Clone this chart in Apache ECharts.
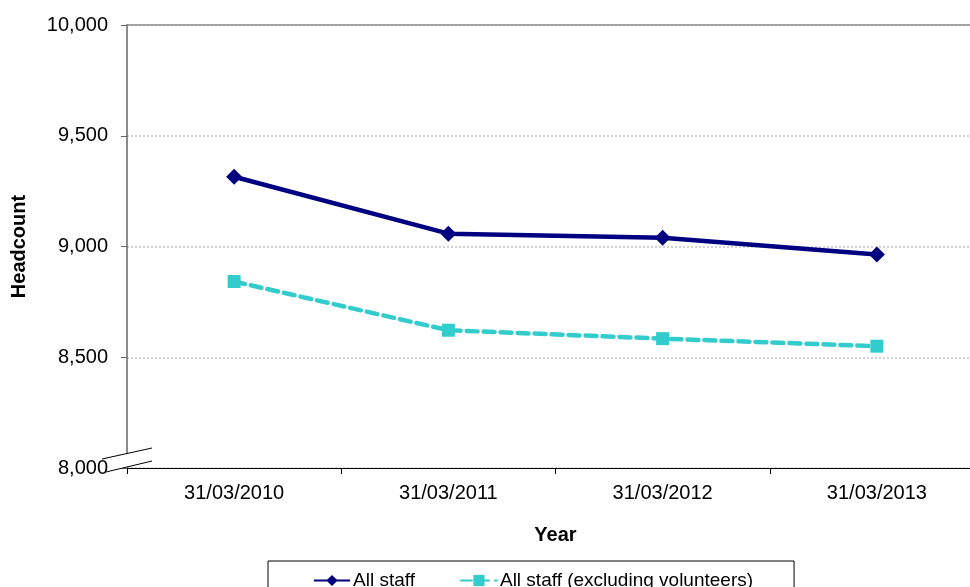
<!DOCTYPE html>
<html>
<head>
<meta charset="utf-8">
<script src="https://cdn.jsdelivr.net/npm/echarts@6/dist/echarts.min.js"></script>
<style>
  html, body { margin: 0; padding: 0; background: #fff; overflow: hidden; }
  /* the plot area runs slightly past the right edge of the window */
  #chart { width: 984px; height: 587px; }
</style>
</head>
<body>
<div id="chart"></div>
<script>
// Headcount at year end
const years = ['31/03/2010', '31/03/2011', '31/03/2012', '31/03/2013'];
const allStaff = [9315, 9058, 9040, 8964];
const excludingVolunteers = [8842, 8622, 8584, 8550];
const yTicks = { min: 8000, max: 10000, step: 500 };

const FONT = '"Liberation Sans", Arial, sans-serif';

const chart = echarts.init(document.getElementById('chart'));

chart.setOption({
  animation: false,
  backgroundColor: '#ffffff',
  textStyle: { fontFamily: FONT, color: '#000' },
  grid: { left: 127, top: 25, bottom: 119, right: 0, containLabel: false },
  legend: {
    left: 268,
    top: 561,
    padding: [10, 41, 12, 45],
    borderColor: '#000',
    borderWidth: 1,
    itemWidth: 36,
    itemHeight: 14,
    itemGap: 45,
    textStyle: { fontFamily: FONT, fontSize: 19, color: '#000', padding: [0, 0, 0, -2] },
    data: ['All staff', 'All staff (excluding volunteers)']
  },
  xAxis: [
    {
      type: 'category',
      data: years,
      boundaryGap: true,
      position: 'bottom',
      name: 'Year',
      nameLocation: 'middle',
      nameGap: 57,
      nameTextStyle: { fontFamily: FONT, fontSize: 20, fontWeight: 'bold', color: '#000', verticalAlign: 'top' },
      axisLine: { show: true, lineStyle: { color: '#000', width: 1 } },
      axisTick: { show: true, length: 6, interval: 0, lineStyle: { color: '#000' } },
      axisLabel: { fontFamily: FONT, fontSize: 20, color: '#000', margin: 15, interval: 0 },
      splitLine: { show: false }
    },
    {
      // top border of the plot at 10,000
      type: 'category',
      data: years,
      position: 'top',
      axisLine: { show: true, lineStyle: { color: '#8c8c8c', width: 1.5 } },
      axisTick: { show: false },
      axisLabel: { show: false }
    }
  ],
  yAxis: {
    type: 'value',
    min: yTicks.min,
    max: yTicks.max,
    interval: yTicks.step,
    name: 'Headcount',
    nameLocation: 'middle',
    nameRotate: 90,
    nameGap: 98,
    nameTextStyle: { fontFamily: FONT, fontSize: 20, fontWeight: 'bold', color: '#000' },
    axisLine: { show: true, lineStyle: { color: '#666', width: 1.5 } },
    axisTick: { show: true, inside: false, length: 6, lineStyle: { color: '#666' } },
    axisLabel: {
      fontFamily: FONT, fontSize: 20, color: '#000', margin: 19,
      formatter: v => v.toLocaleString('en-US')
    },
    splitLine: { show: true, lineStyle: { color: '#c4c4c4', type: [2, 2], width: 1.5 } }
  },
  series: [
    {
      name: 'All staff',
      type: 'line',
      data: allStaff,
      symbol: 'diamond',
      symbolSize: 16,
      itemStyle: { color: '#000080' },
      lineStyle: { color: '#000080', width: 4.5 },
      z: 3
    },
    {
      name: 'All staff (excluding volunteers)',
      type: 'line',
      data: excludingVolunteers,
      symbol: 'rect',
      symbolSize: 13,
      itemStyle: { color: '#33CCCC' },
      lineStyle: { color: '#33CCCC', width: 4.5, type: [11, 6], cap: 'round' },
      z: 2
    }
  ],
  graphic: [
    // axis break mark at the bottom of the value axis: a gap in the axis line between two slashes
    {
      type: 'polygon',
      shape: { points: [[120, 455], [134, 452], [134, 465.3], [120, 468.7]] },
      style: { fill: '#fff', stroke: null },
      z: 100
    },
    {
      type: 'line',
      shape: { x1: 102, y1: 459, x2: 152, y2: 448 },
      style: { stroke: '#000', lineWidth: 1 },
      z: 101
    },
    {
      type: 'line',
      shape: { x1: 106, y1: 472, x2: 152, y2: 461 },
      style: { stroke: '#000', lineWidth: 1 },
      z: 101
    }
  ]
});
</script>
</body>
</html>
